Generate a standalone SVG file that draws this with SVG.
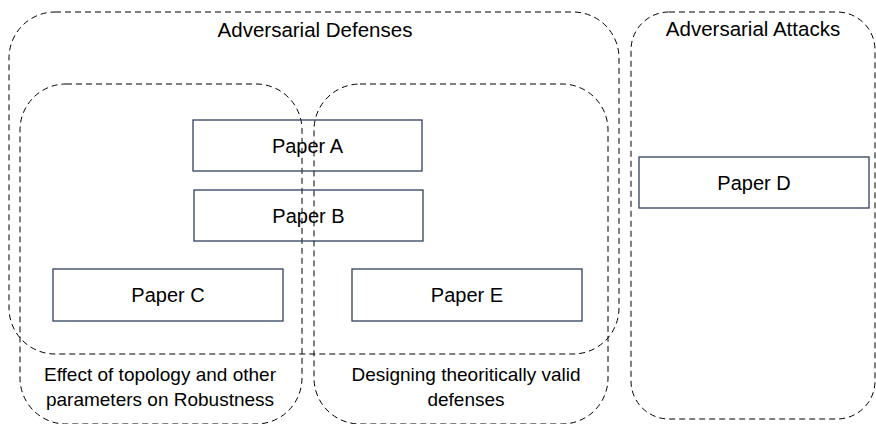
<svg xmlns="http://www.w3.org/2000/svg" width="876" height="424" viewBox="0 0 876 424">
<style>
.grp{fill:none;stroke:#000;stroke-width:1;stroke-dasharray:6 4}
.box{fill:none;stroke:#2F3F60;stroke-width:1.3}
.t{font-family:"Liberation Sans",Arial,sans-serif;fill:#000;text-anchor:middle}
.big{font-size:20.5px}
.pp{font-size:20px}
.sm{font-size:19px}
</style>
<rect x="0" y="0" width="876" height="424" fill="#fff"/>
<g id="connectors"></g>
<g id="defenses">
<rect class="grp" x="9" y="12" width="610" height="342" rx="46" ry="46"/>
<text class="t big" x="315" y="37">Adversarial Defenses</text>
</g>
<g id="topology">
<rect class="grp" x="20" y="84" width="282" height="340" rx="46" ry="46"/>
<text class="t sm" x="160" y="381">Effect of topology and other</text>
<text class="t sm" x="160" y="406">parameters on Robustness</text>
</g>
<g id="theory">
<rect class="grp" x="314" y="84" width="294" height="340" rx="46" ry="46"/>
<text class="t sm" x="466" y="381">Designing theoritically valid</text>
<text class="t sm" x="466" y="406">defenses</text>
</g>
<g id="attacks">
<rect class="grp" x="631" y="12" width="244" height="407" rx="38" ry="38"/>
<text class="t big" x="753" y="36">Adversarial Attacks</text>
</g>
<g id="paperA">
<rect class="box" x="193" y="120" width="229" height="51"/>
<text class="t pp" x="307.5" y="153">Paper A</text>
</g>
<g id="paperB">
<rect class="box" x="194" y="190" width="229" height="51"/>
<text class="t pp" x="308.5" y="223">Paper B</text>
</g>
<g id="paperC">
<rect class="box" x="53" y="269" width="230" height="52"/>
<text class="t pp" x="168" y="302">Paper C</text>
</g>
<g id="paperE">
<rect class="box" x="352" y="269" width="230" height="52"/>
<text class="t pp" x="467" y="302">Paper E</text>
</g>
<g id="paperD">
<rect class="box" x="639" y="157" width="230" height="51"/>
<text class="t pp" x="754" y="190">Paper D</text>
</g>
</svg>
